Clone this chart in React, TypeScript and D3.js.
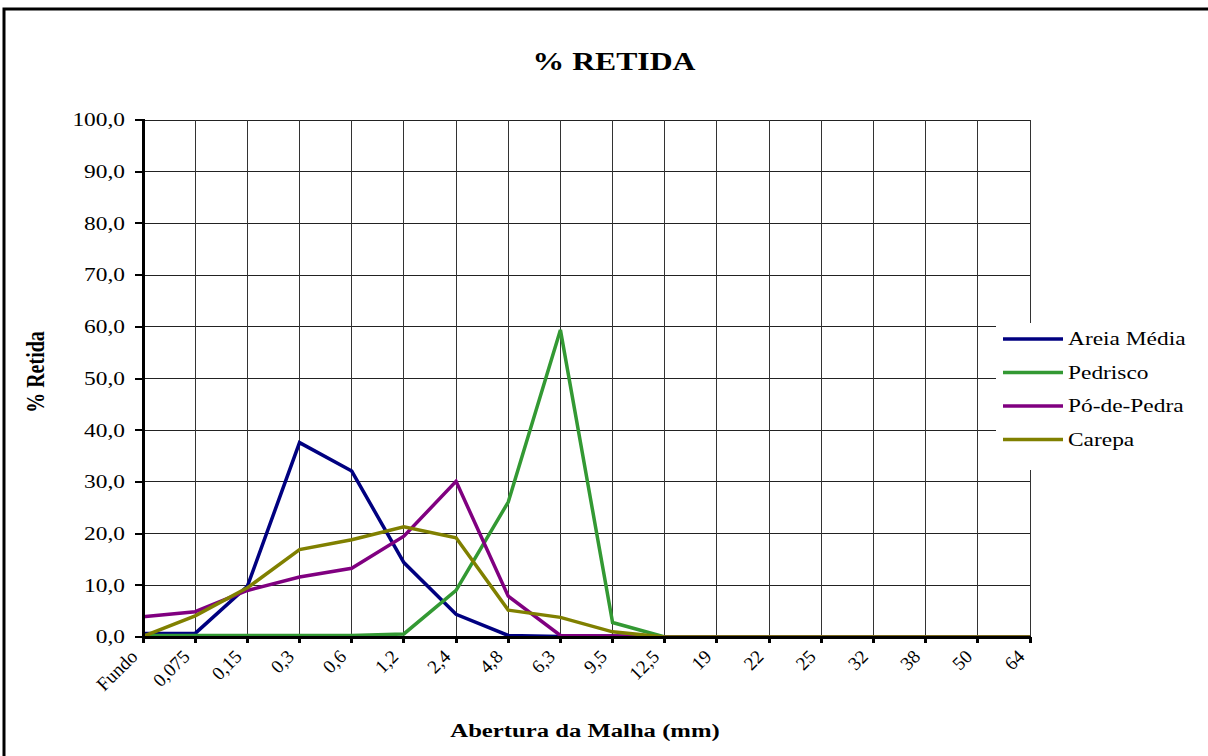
import React from "react";
import * as d3 from "d3";

const categories = ["Fundo", "0,075", "0,15", "0,3", "0,6", "1,2", "2,4", "4,8", "6,3", "9,5", "12,5", "19", "22", "25", "32", "38", "50", "64"];
const areiaMedia = [0.7, 0.7, 9.8, 37.6, 32.1, 14.4, 4.4, 0.3, 0.1, 0.2, 0, 0, 0, 0, 0, 0, 0, 0];
const pedrisco = [0.3, 0.3, 0.3, 0.3, 0.3, 0.6, 9.0, 26.1, 59.4, 2.8, 0, 0, 0, 0, 0, 0, 0, 0];
const poDePedra = [3.9, 4.9, 9.0, 11.6, 13.3, 19.5, 30.1, 7.9, 0.3, 0.2, 0, 0, 0, 0, 0, 0, 0, 0];
const carepa = [0.1, 4.1, 9.5, 16.9, 18.8, 21.3, 19.2, 5.2, 3.8, 1.0, 0, 0, 0, 0, 0, 0, 0, 0];
const yTicks = [0, 10, 20, 30, 40, 50, 60, 70, 80, 90, 100];

const seriesNames = ["Areia Média", "Pedrisco", "Pó-de-Pedra", "Carepa"];
const seriesColors = ["#000080", "#339933", "#800080", "#808000"];
const seriesValues = [areiaMedia, pedrisco, poDePedra, carepa];

const X0 = 143, X1 = 1030, Y0 = 637, Y1 = 120;
const SX = 1.3;
const serif = "'Liberation Serif', 'Times New Roman', Times, serif";

export default function App() {
  const x = d3.scalePoint<string>().domain(categories).range([X0, X1]);
  const y = d3.scaleLinear().domain([0, 100]).range([Y0, Y1]);
  const line = d3
    .line<number>()
    .x((_, i) => x(categories[i]) as number)
    .y((d) => y(d));
  const fmt = (v: number) => v.toFixed(1).replace(".", ",");
  const ts = { fontFamily: serif };

  return (
    <svg
      width={1208}
      height={756}
      style={{ position: "absolute", left: 0, top: 0, background: "#fff" }}
    >
      <rect x={0} y={0} width={1208} height={756} fill="#fff" />
      <path d="M4,760 L4,9 L1212,9" fill="none" stroke="#000" strokeWidth={3} />

      <text transform={`translate(614,70) scale(1.22,1)`} textAnchor="middle" fontSize={26} fontWeight="bold" style={ts}>
        % RETIDA
      </text>

      {/* gridlines */}
      <g shapeRendering="crispEdges">
        {yTicks.map((t) => (
          <line key={"h" + t} x1={X0} x2={X1} y1={y(t)} y2={y(t)} stroke="#222" strokeWidth={1} />
        ))}
        {categories.map((c) => (
          <line key={"v" + c} x1={x(c)} x2={x(c)} y1={Y1} y2={Y0} stroke="#333" strokeWidth={1} />
        ))}
      </g>

      {/* series */}
      {seriesValues.map((vals, i) => (
        <path key={seriesNames[i]} d={line(vals) || ""} fill="none" stroke={seriesColors[i]} strokeWidth={3.5} strokeLinejoin="miter" />
      ))}

      {/* axes */}
      <g shapeRendering="crispEdges">
        <line x1={X0} x2={X0} y1={Y1 - 1} y2={Y0 + 2} stroke="#000" strokeWidth={3} />
        <line x1={X0 - 1} x2={X1 + 1} y1={Y0} y2={Y0} stroke="#000" strokeWidth={3} />
        {yTicks.map((t) => (
          <line key={"yt" + t} x1={X0 - 8} x2={X0} y1={y(t)} y2={y(t)} stroke="#000" strokeWidth={2} />
        ))}
        {categories.map((c) => (
          <line key={"xt" + c} x1={x(c)} x2={x(c)} y1={Y0} y2={Y0 + 6} stroke="#000" strokeWidth={3} />
        ))}
      </g>

      {yTicks.map((t) => (
        <text key={"yl" + t} transform={`translate(125,${y(t)}) scale(${SX},1)`} dy="0.35em" textAnchor="end" fontSize={18} style={ts}>
          {fmt(t)}
        </text>
      ))}

      {categories.map((c) => (
        <text
          key={"xl" + c}
          transform={`translate(${(x(c) as number) - 9},${Y0 + 16}) rotate(-45)`}
          textAnchor="end"
          dy="0.35em"
          fontSize={19}
          style={ts}
        >
          {c}
        </text>
      ))}

      <text transform={`translate(585,737) scale(${SX},1)`} textAnchor="middle" fontSize={19} fontWeight="bold" style={ts}>
        Abertura da Malha (mm)
      </text>
      <text transform={`translate(44,372) scale(${SX},1) rotate(-90)`} textAnchor="middle" fontSize={20} fontWeight="bold" style={ts}>
        % Retida
      </text>

      {/* legend */}
      <rect x={996} y={323} width={212} height={147} fill="#fff" />
      {seriesNames.map((n, i) => (
        <g key={"lg" + n}>
          <line x1={1003} x2={1063} y1={339 + i * 33.5} y2={339 + i * 33.5} stroke={seriesColors[i]} strokeWidth={3.5} />
          <text transform={`translate(1068,${339 + i * 33.5}) scale(${SX},1)`} dy="0.35em" fontSize={18} style={ts}>
            {n}
          </text>
        </g>
      ))}
    </svg>
  );
}
